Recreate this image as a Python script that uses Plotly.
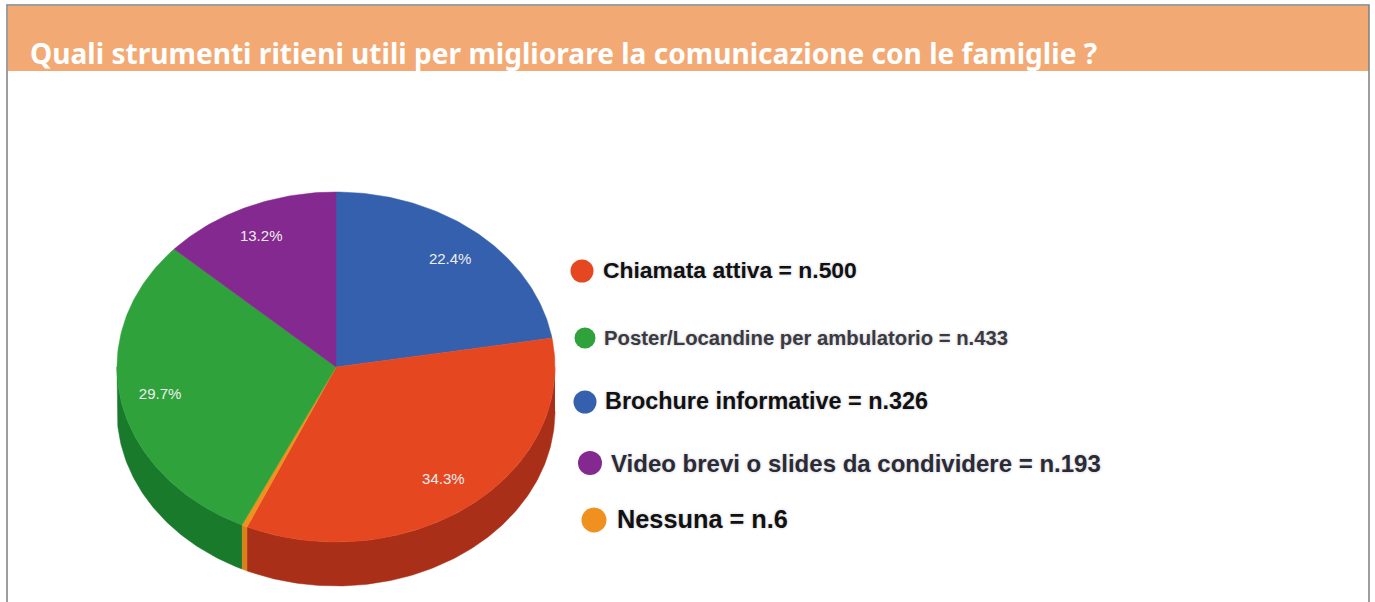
import numpy as np
import plotly.graph_objects as go

# --- data ---
TITLE = "Quali strumenti ritieni utili per migliorare la comunicazione con le famiglie ?"
categories = ["Chiamata attiva", "Poster/Locandine per ambulatorio", "Brochure informative",
              "Video brevi o slides da condividere", "Nessuna"]
values = [500, 433, 326, 193, 6]
# clockwise drawing order, from 12 o'clock
slice_order = ["Brochure informative", "Chiamata attiva", "Nessuna",
               "Poster/Locandine per ambulatorio", "Video brevi o slides da condividere"]

# --- styles ---
top_colors = {"Chiamata attiva": "#E54820", "Poster/Locandine per ambulatorio": "#2FA23C",
              "Brochure informative": "#3560AE", "Video brevi o slides da condividere": "#84298F",
              "Nessuna": "#F0901E"}
side_colors = {"Chiamata attiva": "#A92F19", "Poster/Locandine per ambulatorio": "#1A7A2C",
               "Brochure informative": "#24427A", "Video brevi o slides da condividere": "#5C1C64",
               "Nessuna": "#D9821A"}
CX, CY, RX, RY, DEPTH = 336, 367, 219, 175, 44

legend_layout = [  # marker x, marker y, marker size, text x, text y, font size, colour
    (582, 271, 23, 600.5, 270, 22.9, "#111111"),
    (585, 338, 21, 601.5, 338, 20.3, "#3a3a40"),
    (585, 402, 23, 602.5, 401, 23.4, "#111111"),
    (590, 463, 24, 608.5, 463, 24, "#2b2b35"),
    (594, 520, 25, 614.5, 519, 25.3, "#111111"),
]
label_nudges = {"Brochure informative": (1, 0), "Chiamata attiva": (0, 3),
                "Poster/Locandine per ambulatorio": (-4, 1),
                "Video brevi o slides da condividere": (-4, -2)}

by_name = dict(zip(categories, values))
total = sum(values)
fig = go.Figure()


def arc(a, b, dy=0.0, n=None):
    n = n or max(2, int(abs(b - a) * 60) + 2)
    t = np.linspace(a, b, n)
    return CX + RX * np.sin(t), CY - RY * np.cos(t) + dy


angles = {}
start = 0.0
for name in slice_order:
    end = start + by_name[name] / total * 2 * np.pi
    angles[name] = (start, end)
    start = end

# visible rim of the disc (front half only)
for name in slice_order:
    a, b = angles[name]
    a2, b2 = max(a, np.pi / 2), min(b, 3 * np.pi / 2)
    if b2 <= a2:
        continue
    x1, y1 = arc(a2, b2)
    x2, y2 = arc(b2, a2, DEPTH)
    fig.add_trace(go.Scatter(x=np.r_[x1, x2], y=np.r_[y1, y2], mode="lines", fill="toself",
                             fillcolor=side_colors[name], line=dict(color=side_colors[name], width=0.5),
                             hoverinfo="skip", showlegend=False))

# top face
for name in slice_order:
    a, b = angles[name]
    x, y = arc(a, b)
    fig.add_trace(go.Scatter(x=np.r_[CX, x, CX], y=np.r_[CY, y, CY], mode="lines", fill="toself",
                             fillcolor=top_colors[name], line=dict(color=top_colors[name], width=0.5),
                             name=name, hoverinfo="name", showlegend=False))

# percentage labels
for name in slice_order:
    share = by_name[name] / total
    if share < 0.01:
        continue
    a, b = angles[name]
    m = (a + b) / 2
    nx, ny = label_nudges[name]
    fig.add_trace(go.Scatter(x=[CX + 0.8 * RX * np.sin(m) + nx], y=[CY - 0.8 * RY * np.cos(m) + ny],
                             mode="text", text=[f"{share * 100:.1f}%"],
                             textfont=dict(family="Liberation Sans", size=15, color="#eeeeee"),
                             hoverinfo="skip", showlegend=False))

# legend
for name, (mx, my, ms, tx, ty, fs, col) in zip(categories, legend_layout):
    fig.add_trace(go.Scatter(x=[mx], y=[my], mode="markers",
                             marker=dict(size=ms, color=top_colors[name], line=dict(width=0)),
                             hoverinfo="skip", showlegend=False))
    fig.add_annotation(x=tx, y=ty, xref="x", yref="y", xanchor="left", yanchor="middle", showarrow=False,
                       text=f"<b>{name} = n.{by_name[name]}</b>",
                       font=dict(family="Liberation Sans", size=fs, color=col,
                                 shadow="0 0 3px rgba(90,90,110,0.35)"))

# panel
fig.add_shape(type="rect", x0=8, x1=1369, y0=6, y1=71, xref="x", yref="y", layer="below",
              fillcolor="#F3A974", line=dict(width=0))
fig.add_shape(type="path", path="M 7 602 L 7 5 L 1369 5 L 1369 602", xref="x", yref="y", layer="above",
              line=dict(color="#7f7f7f", width=1.5))
fig.add_annotation(x=28, y=53, xref="x", yref="y", xanchor="left", yanchor="middle", showarrow=False,
                   text=f"<b>{TITLE}</b>",
                   font=dict(family="Noto Sans", size=28.1, color="#ffffff"))

fig.update_layout(width=1375, height=602, margin=dict(l=0, r=0, t=0, b=0),
                  paper_bgcolor="#ffffff", plot_bgcolor="#ffffff", showlegend=False,
                  xaxis=dict(range=[0, 1375], visible=False, fixedrange=True),
                  yaxis=dict(range=[602, 0], visible=False, fixedrange=True))
fig.write_html("out.html", config={"displayModeBar": False},
               post_script="document.body.style.margin='0';")
